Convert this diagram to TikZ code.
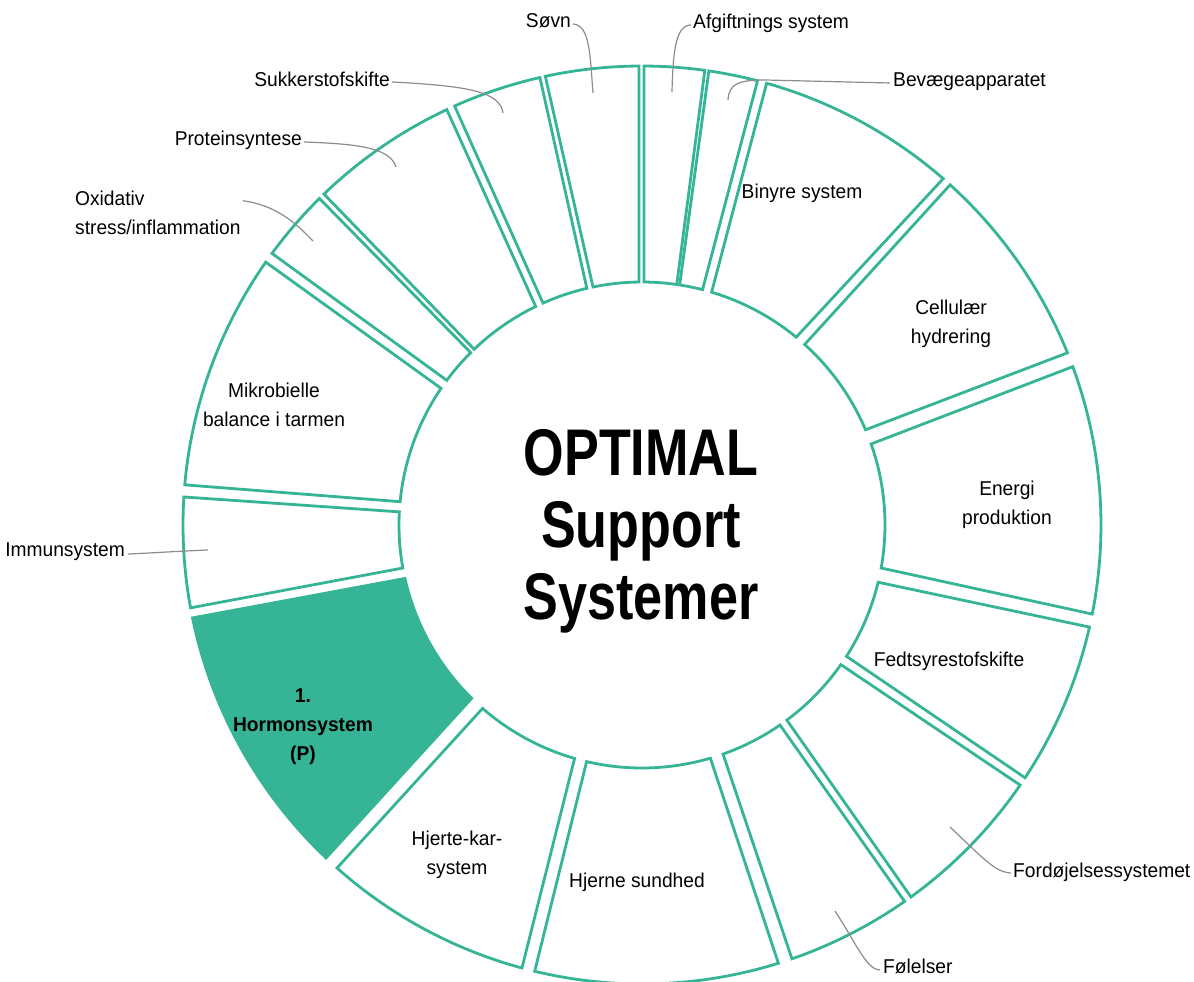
\documentclass[tikz,border=0pt]{standalone}
\usepackage{fontspec}
\setmainfont{Liberation Sans}[FakeStretch=0.96]
\newfontfamily\titlefont{Liberation Sans}[FakeStretch=0.79]
\usetikzlibrary{calc}
\definecolor{segteal}{HTML}{35B596}
\definecolor{leadgray}{HTML}{8C8C8C}
% #1 style, #2 outer start angle, #3 outer end angle, #4 inner end angle, #5 inner start angle
\newcommand{\donutseg}[5]{%
  \path[#1] (#2:459pt) arc[start angle=#2, end angle=#3, radius=459pt]
    -- (#4:243pt) arc[start angle=#4, end angle=#5, radius=243pt] -- cycle;}
\begin{document}
\begin{tikzpicture}[x=1pt,y=1pt,
  seg/.style={draw=segteal, line width=2.8pt, fill=white},
  segfill/.style={draw=segteal, line width=2.8pt, fill=segteal},
  lbl/.style={font=\fontsize{20}{29}\selectfont, inner sep=0pt, text=black},
  ml/.style={lbl, align=center, anchor=north},
  leader/.style={draw=leadgray, line width=1.2pt},
]
\useasboundingbox (-642,-457) rectangle (552,525);
% segments, clockwise from top
\donutseg{seg}{89.75}{82.13}{81.77}{89.53}      % Afgiftnings system
\donutseg{seg}{81.62}{75.42}{75.57}{81.08}      % Bevaegeapparatet
\donutseg{seg}{74.24}{48.99}{50.61}{73.35}      % Binyre
\donutseg{seg}{47.83}{22.03}{23.07}{47.98}      % Cellulaer
\donutseg{seg}{20.18}{-11.19}{-10.2}{19.48}     % Energi
\donutseg{seg}{-12.85}{-33.42}{-32.71}{-13.63}  % Fedtsyre
\donutseg{seg}{-34.52}{-54.13}{-53.41}{-35.07}  % Fordoejelse
\donutseg{seg}{-55.1}{-70.93}{-70.52}{-55.4}    % Foelelser
\donutseg{seg}{-72.71}{-103.52}{-103.17}{-73.66}% Hjerne
\donutseg{seg}{-105.16}{-131.64}{-131.0}{-106.11}% Hjerte-kar
\donutseg{segfill}{-133.5}{-168.32}{-167.29}{-134.5}% Hormon
\donutseg{seg}{-169.6}{-183.5}{-183.1}{-169.8}  % Immun
\donutseg{seg}{174.98}{145.06}{145.78}{174.5}   % Mikrobielle
\donutseg{seg}{143.72}{134.65}{134.83}{143.46}  % Oxidativ
\donutseg{seg}{133.86}{115.17}{115.94}{133.68}  % Proteinsyntese
\donutseg{seg}{114.1}{102.85}{103.12}{114.04}   % Sukker
\donutseg{seg}{102.16}{90.37}{90.7}{101.63}     % Soevn

% title
\node[anchor=north, align=center, inner sep=0pt,
      font=\titlefont\bfseries\fontsize{66}{72}\selectfont] (title) at (-1,100)
  {\strut OPTIMAL\\Support\\Systemer};

% inner labels
\node[lbl, anchor=base] (binyre) at (160,326) {Binyre system};
\node[ml] (cellular) at (309,231.3) {\strut Cellulær\\hydrering};
\node[ml] (energi) at (365,50.3) {\strut Energi\\produktion};
\node[lbl, anchor=base] (fedt) at (307,-141) {Fedtsyrestofskifte};
\node[lbl, anchor=base] (hjerne) at (-5,-362) {Hjerne sundhed};
\node[ml] (hjerte) at (-185,-299.7) {\strut Hjerte-kar-\\system};
\node[ml, font=\bfseries\fontsize{20}{29}\selectfont] (hormon) at (-339,-156.7) {\strut 1.\\Hormonsystem\\(P)};
\node[ml] (mikro) at (-368,148.3) {\strut Mikrobielle\\balance i tarmen};

% outer labels
\node[lbl, anchor=north west, align=left] (oxid) at (-567,340.3) {\strut Oxidativ\\stress/inflammation};
\node[lbl, anchor=base east] (sovn) at (-71,497) {Søvn};
\node[lbl, anchor=base west] (afg) at (51,496) {Afgiftnings system};
\node[lbl, anchor=base west] (bev) at (251,438) {Bevægeapparatet};
\node[lbl, anchor=base east] (sukker) at (-252,438) {Sukkerstofskifte};
\node[lbl, anchor=base east] (protein) at (-340,379) {Proteinsyntese};
\node[lbl, anchor=base east] (immun) at (-517,-32) {Immunsystem};
\node[lbl, anchor=base west] (fordoj) at (371,-352) {Fordøjelsessystemet};
\node[lbl, anchor=base west] (folelser) at (241,-448) {Følelser};

% leader end points
\coordinate (sovn-end) at (-49,432);
\coordinate (afg-end) at (30,433);
\coordinate (bev-knee) at (123,445);
\coordinate (bev-end) at (86,425);
\coordinate (sukker-end) at (-139,412);
\coordinate (protein-end) at (-246,358);
\coordinate (oxid-end) at (-329,284);
\coordinate (immun-end) at (-434,-25);
\coordinate (fordoj-end) at (308,-302);
\coordinate (folelser-end) at (193,-386);

% leaders
\draw[leader] ([shift={(2,4)}]sovn.base east) .. controls (-52,500) and (-52,470) .. (sovn-end);
\draw[leader] ([shift={(-2,4)}]afg.base west) .. controls (34,500) and (31,475) .. (afg-end);
\draw[leader] ([shift={(-3,4)}]bev.base west) -- (bev-knee) .. controls (96,445) and (87,441) .. (bev-end);
\draw[leader] ([shift={(2,5)}]sukker.base east) .. controls (-172,439) and (-142,433) .. (sukker-end);
\draw[leader] ([shift={(2,4)}]protein.base east) .. controls (-282,381) and (-252,377) .. (protein-end);
\draw[leader] ($(oxid.north east)+(2,-16)$) .. controls (-367,320) and (-347,303) .. (oxid-end);
\draw[leader] ([shift={(3,3)}]immun.base east) .. controls (-490,-28) and (-460,-26) .. (immun-end);
\draw[leader] ([shift={(-2,4)}]fordoj.base west) .. controls (353,-347) and (343,-335) .. (fordoj-end);
\draw[leader] ([shift={(-3,3)}]folelser.base west) .. controls (225,-445) and (215,-420) .. (folelser-end);
\end{tikzpicture}
\end{document}
